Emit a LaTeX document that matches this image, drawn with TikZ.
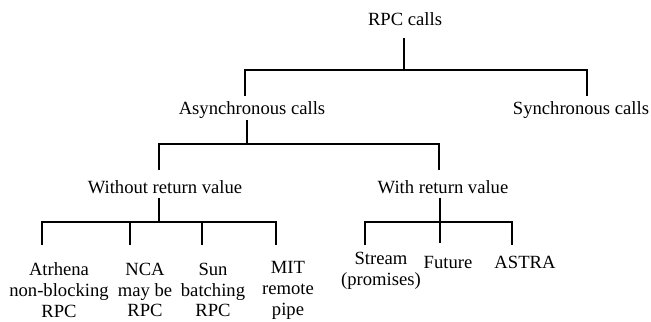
\documentclass[tikz,border=0pt]{standalone}
\usepackage{fontspec}
\setmainfont{Liberation Serif}
\tikzset{
  label/.style={inner sep=1pt, align=center, font=\fontsize{10.6}{11.9}\selectfont},
  branch/.style={line width=1.1pt}
}
\begin{document}
\begin{tikzpicture}[scale=1]
\useasboundingbox (0,0) rectangle (13.02,6.44);
% labels
\node[label] (rpc) at (8.10,6.06) {RPC calls};
\node[label] (async) at (5.04,4.24) {Asynchronous calls};
\node[label] (sync) at (11.62,4.24) {Synchronous calls};
\node[label] (without) at (3.30,2.70) {Without return value};
\node[label] (with) at (8.86,2.70) {With return value};
\node[label] (atr) at (1.18,0.64) {Atrhena\\non-blocking\\RPC};
\node[label] (nca) at (2.90,0.64) {NCA\\may be\\RPC};
\node[label] (sun) at (4.26,0.64) {Sun\\batching\\RPC};
\node[label] (mit) at (5.76,0.64) {MIT\\remote\\pipe};
\node[label] (stream) at (7.62,1.02) {Stream\\(promises)};
\node[label] (future) at (8.96,1.19) {Future};
\node[label] (astra) at (10.50,1.19) {ASTRA};
% stems and joints
\coordinate (rpc-s) at (8.08,5.68);
\coordinate (rpc-j) at (8.08,5.04);
\coordinate (async-n) at (4.90,4.52);
\coordinate (sync-n) at (11.74,4.52);
\coordinate (async-s) at (4.94,4.04);
\coordinate (async-j) at (4.94,3.56);
\coordinate (without-n) at (3.18,3.04);
\coordinate (with-n) at (8.78,3.04);
\coordinate (without-s) at (3.18,2.48);
\coordinate (without-j) at (3.18,2.00);
\coordinate (with-s) at (8.80,2.48);
\coordinate (with-j) at (8.80,2.00);
\coordinate (atr-n) at (0.84,1.54);
\coordinate (nca-n) at (2.60,1.54);
\coordinate (sun-n) at (4.04,1.54);
\coordinate (mit-n) at (5.52,1.54);
\coordinate (stream-n) at (7.30,1.54);
\coordinate (future-n) at (8.80,1.58);
\coordinate (astra-n) at (10.24,1.54);
% tree
\draw[branch] (rpc-s) -- (rpc-j);
\draw[branch] (async-n) |- (rpc-j) -| (sync-n);
\draw[branch] (async-s) -- (async-j);
\draw[branch] (without-n) |- (async-j) -| (with-n);
\draw[branch] (without-s) -- (without-j);
\draw[branch] (atr-n) |- (without-j) -| (mit-n);
\foreach \n in {nca,sun}{
\draw[branch] (\n-n) -- (\n-n |- without-j);};
\draw[branch] (with-s) -- (future-n);
\draw[branch] (stream-n) |- (with-j) -| (astra-n);
\end{tikzpicture}
\end{document}
